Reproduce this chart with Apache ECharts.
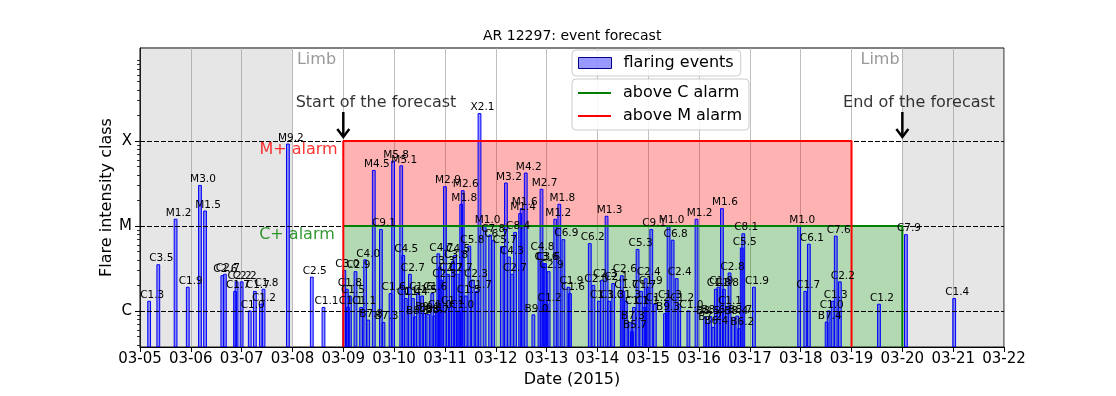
<!DOCTYPE html>
<html><head><meta charset="utf-8">
<script src="https://cdn.jsdelivr.net/npm/echarts@6/dist/echarts.min.js"></script>
<style>html,body{margin:0;padding:0;background:#fff}#c{width:1116px;height:396px}</style>
</head><body><div id="c"></div>
<script>
// ---- data (day of March 2015, fractional) ----
const flareTimes = [5.18,5.36,5.70,5.94,6.18,6.28,6.62,6.67,6.87,6.90,7.00,7.16,7.26,7.38,7.43,7.91,8.38,8.61,
9.02,9.07,9.09,9.13,9.24,9.35,9.43,9.49,9.60,9.74,9.79,9.93,9.98,10.14,10.18,10.23,10.31,10.37,10.41,10.47,10.55,10.59,10.67,10.75,10.79,10.84,10.87,10.90,10.93,11.00,11.06,11.10,11.16,11.20,11.25,11.28,11.32,11.35,11.41,11.48,11.55,11.63,11.68,11.78,11.89,11.95,12.12,12.20,12.26,12.32,12.38,12.48,12.51,12.59,12.74,12.86,12.90,12.94,12.97,13.00,13.04,13.17,13.25,13.33,13.43,13.46,
13.85,13.92,14.03,14.09,14.18,14.23,14.31,14.48,14.51,14.56,14.64,14.68,14.72,14.79,14.86,14.92,14.95,14.99,15.06,15.13,15.33,15.37,15.40,15.48,15.56,15.61,15.79,15.95,
16.12,16.16,16.22,16.28,16.33,16.38,16.45,16.49,16.55,16.60,16.67,16.75,16.79,16.84,16.87,17.08,17.97,18.09,18.16,18.51,18.55,18.63,18.69,18.77,19.54,20.07,21.02];
const flareClasses = ['C1.3','C3.5','M1.2','C1.9','M3.0','M1.5','C2.6','C2.7','C1.7','C2.2','C2.2','C1.0','C1.7','C1.2','C1.8','M9.2','C2.5','C1.1',
'C3.0','C1.8','C1.1','C1.5','C2.9','C1.1','C4.0','B7.8','M4.5','C9.1','B7.3','C1.6','M5.8','M5.1','C4.5','C1.4','C2.7','C1.4','B8.5','C1.6','C1.5','B9.4','B9.1','C1.6','B8.7','C1.0','C4.7','C3.3','C2.3','M2.9','C2.7','C1.1','C3.8','C4.5','C2.7','C1.0','M1.8','M2.6','C1.5','C5.8','C2.3','C1.7','X2.1','M1.0','C7.8','C6.7','C5.7','M3.2','C4.3','C2.7','C8.4','M1.4','M1.6','M4.2','B9.0','C4.8','M2.7','C3.6','C3.6','C1.2','C2.9','M1.2','M1.8','C6.9','C1.9','C1.6',
'C6.2','C2.0','C1.3','C2.3','M1.3','C1.3','C2.1','C2.6','C1.7','C1.3','B7.3','B5.7','C1.1','C5.3','C1.7','C1.1','C2.4','C1.9','C9.1','C1.2','B9.3','C1.3','M1.0','C6.8','C2.4','C1.2','C1.0','M1.2',
'B8.5','B7.2','B8.6','B6.4','C1.8','C1.9','M1.6','C1.8','C1.1','C2.8','B8.4','B8.7','B6.2','C5.5','C8.1','C1.9','M1.0','C1.7','C6.1','B7.4','C1.0','C1.3','C7.6','C2.2','C1.2','C7.9','C1.4'];
const classLetters = ['A','B','C','M','X'];
const classExponents = [-8,-7,-6,-5,-4];
const yTickLabels = ['C','M','X'];
const yTickExponents = [-6,-5,-4];
const xTickLabels = ['03-05','03-06','03-07','03-08','03-09','03-10','03-11','03-12','03-13','03-14','03-15','03-16','03-17','03-18','03-19','03-20','03-21','03-22'];
const limbLeft = [5, 8];
const limbRight = [20, 22];
const forecastStart = 9;
const mAlarmEnd = 19;
const cAlarmEnd = 20;
const annotationTexts = ['Start of the forecast','End of the forecast','Limb','Limb','M+ alarm','C+ alarm'];
const annotationX = [9.644, 20.329, 8.473, 19.561, 8.119, 8.089];
const annotationY = [-3.553, -3.553, -3.047, -3.047, -4.106, -5.106];
const annotationColors = ['#000000','#000000','#808080','#808080','#ff0000','#008000'];
const arrowX = [9, 20];
const arrowFrom = -3.659, arrowTo = -3.953;

// ---- derived ----
const xMin = 5, xMax = 22;
const yMin = -6.424, yMax = -2.906;
function classToLog(c) {
  const e = classExponents[classLetters.indexOf(c[0])];
  return Math.log10(parseFloat(c.slice(1))) + e;
}
const flareData = flareTimes.map((t, i) => [t, classToLog(flareClasses[i])]);
const minorTicks = [];
for (let d = -7; d <= -3; d++) for (let m = 2; m <= 9; m++) {
  const v = d + Math.log10(m);
  if (v > yMin && v < yMax) minorTicks.push(v);
}
const barWidthDays = 0.055;
const FONT = '"DejaVu Sans", sans-serif';
const barFill = 'rgba(0,0,255,0.4)';

const chart = echarts.init(document.getElementById('c'), null, {renderer: 'canvas'});
chart.setOption({
  animation: false,
  backgroundColor: '#fff',
  textStyle: {fontFamily: FONT},
  title: {text: 'AR 12297: event forecast', left: 483, top: 29, padding: 0,
    textStyle: {fontFamily: FONT, fontSize: 14, fontWeight: 'normal', color: '#000'}},
  grid: {left: 140, right: 112, top: 48, bottom: 49, show: true, borderColor: '#000', borderWidth: 1, backgroundColor: '#fff'},
  legend: [
    {data: [{name: 'flaring events', icon: 'rect', itemStyle: {color: barFill, borderColor: '#00008b', borderWidth: 1}}],
     left: 572, top: 50, padding: [5, 7, 5, 6], itemWidth: 33, itemHeight: 11, itemGap: 5,
     backgroundColor: 'rgba(255,255,255,0.85)', borderColor: '#cccccc', borderWidth: 1, borderRadius: 4,
     textStyle: {fontFamily: FONT, fontSize: 16, color: '#000', padding: [0, 0, 0, 7]}},
    {data: [{name: 'above C alarm', icon: 'rect'}, {name: 'above M alarm', icon: 'rect'}],
     orient: 'vertical', left: 572, top: 79, padding: [5, 7, 5, 6], itemWidth: 33, itemHeight: 2, itemGap: 5,
     backgroundColor: 'rgba(255,255,255,0.85)', borderColor: '#cccccc', borderWidth: 1, borderRadius: 4,
     textStyle: {fontFamily: FONT, fontSize: 16, color: '#000', lineHeight: 18, padding: [0, 0, 0, 7]}}
  ],
  xAxis: {
    type: 'value', min: xMin, max: xMax, interval: 1,
    name: 'Date (2015)', nameLocation: 'middle', nameGap: 24,
    nameTextStyle: {fontFamily: FONT, fontSize: 16, color: '#000'},
    axisLine: {show: true, lineStyle: {color: '#000', width: 1}},
    axisTick: {show: true, inside: false, length: 5, lineStyle: {color: '#000'}},
    axisLabel: {fontFamily: FONT, fontSize: 15, color: '#000', margin: 5,
      formatter: v => xTickLabels[Math.round(v) - xMin]},
    splitLine: {show: true, lineStyle: {color: '#b0b0b0', width: 0.8}}
  },
  yAxis: [
    {type: 'value', min: yMin, max: yMax, position: 'left',
     name: 'Flare intensity class', nameLocation: 'middle', nameGap: 25, nameRotate: 90, nameMoveOverlap: false,
     nameTextStyle: {fontFamily: FONT, fontSize: 16, color: '#000'},
     axisLine: {show: true, lineStyle: {color: '#000', width: 1}},
     axisTick: {show: true, length: 5, customValues: yTickExponents, lineStyle: {color: '#000'}},
     axisLabel: {fontFamily: FONT, fontSize: 15, color: '#000', margin: 8, customValues: yTickExponents,
       formatter: v => yTickLabels[yTickExponents.indexOf(Math.round(v))]},
     splitLine: {show: false}},
    {type: 'value', min: yMin, max: yMax, position: 'left', offset: 0,
     axisLine: {show: false},
     axisTick: {show: true, length: 3, customValues: minorTicks, lineStyle: {color: '#000', width: 0.8}},
     axisLabel: {show: false},
     splitLine: {show: false}}
  ],
  series: [
    {name: 'above C alarm', type: 'line', z: 3, color: '#008000', symbol: 'none', silent: true,
     lineStyle: {color: '#008000', width: 2},
     data: [[forecastStart, -5], [cAlarmEnd, -5], [cAlarmEnd, yMin]],
     markArea: {silent: true, z: 1, data: [
       [{xAxis: limbLeft[0], yAxis: yMin, itemStyle: {color: 'rgba(128,128,128,0.2)'}}, {xAxis: limbLeft[1], yAxis: yMax}],
       [{xAxis: limbRight[0], yAxis: yMin, itemStyle: {color: 'rgba(128,128,128,0.2)'}}, {xAxis: limbRight[1], yAxis: yMax}],
       [{xAxis: forecastStart, yAxis: yMin, itemStyle: {color: 'rgba(0,128,0,0.3)'}}, {xAxis: cAlarmEnd, yAxis: -5}],
       [{xAxis: forecastStart, yAxis: -5, itemStyle: {color: 'rgba(255,0,0,0.3)'}}, {xAxis: mAlarmEnd, yAxis: -4}]
     ]}},
    {name: 'above M alarm', type: 'line', z: 3, color: '#ff0000', symbol: 'none', silent: true,
     lineStyle: {color: '#ff0000', width: 2},
     data: [[forecastStart, yMin], [forecastStart, -4], [mAlarmEnd, -4], [mAlarmEnd, yMin]],
     markLine: {silent: true, z: 3, symbol: 'none', label: {show: false},
       lineStyle: {color: '#000', width: 1, type: [5, 2]},
       data: yTickExponents.map(e => ({yAxis: e}))}},
    {name: 'flaring events', type: 'custom', z: 2, clip: true,
     itemStyle: {color: barFill, borderColor: '#0000ff', borderWidth: 1},
     data: flareData,
     renderItem: (params, api) => {
       const t = api.value(0), lf = api.value(1);
       const top = api.coord([t, lf]);
       const bot = api.coord([t, yMin]);
       const w = api.size([barWidthDays, 0])[0];
       return {type: 'rect', shape: {x: top[0] - w / 2, y: top[1], width: w, height: bot[1] - top[1]},
         style: {fill: barFill, stroke: '#0000ff', lineWidth: 1}};
     }},
    {name: 'labels', type: 'custom', z: 4, silent: true, clip: false,
     data: flareData,
     renderItem: (params, api) => {
       const top = api.coord([api.value(0), api.value(1)]);
       return {type: 'text', x: top[0] + 3, y: top[1] - 0.5,
         style: {text: flareClasses[params.dataIndex], fill: '#000', font: '10.5px ' + FONT, align: 'center', verticalAlign: 'bottom'}};
     }},
    {name: 'arrows', type: 'custom', z: 5, silent: true, clip: false,
     data: arrowX.map(x => [x, arrowFrom, arrowTo]),
     renderItem: (params, api) => {
       const x = api.value(0);
       const p1 = api.coord([x, api.value(1)]);
       const p2 = api.coord([x, api.value(2)]);
       const st = {stroke: '#000', lineWidth: 2.5, fill: null};
       return {type: 'group', children: [
         {type: 'line', shape: {x1: p1[0], y1: p1[1], x2: p2[0], y2: p2[1] - 1}, style: st},
         {type: 'polyline', shape: {points: [[p2[0] - 6, p2[1] - 8], [p2[0], p2[1]], [p2[0] + 6, p2[1] - 8]]}, style: st}
       ]};
     }},
    {name: 'annotations', type: 'scatter', z: 5, silent: true, symbolSize: 0,
     data: annotationTexts.map((s, i) => ({value: [annotationX[i], annotationY[i]],
       label: {show: true, position: 'inside', formatter: s, fontFamily: FONT, fontSize: 16, color: annotationColors[i]}}))}
  ]
});
</script></body></html>
